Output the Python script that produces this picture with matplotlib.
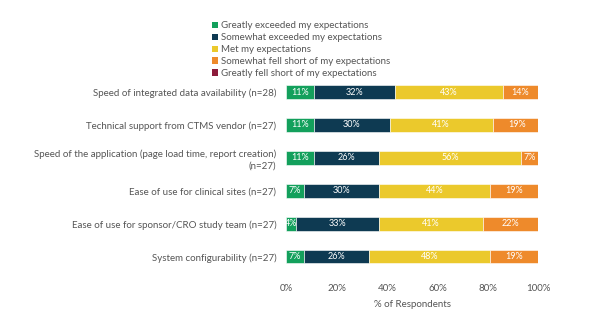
import matplotlib.pyplot as plt
import numpy as np
from matplotlib.patches import Patch

plt.rcParams["font.family"] = ["Lato", "DejaVu Sans"]

categories = [
    "Speed of integrated data availability (n=28)",
    "Technical support from CTMS vendor (n=27)",
    "Speed of the application (page load time, report creation)\n(n=27)",
    "Ease of use for clinical sites (n=27)",
    "Ease of use for sponsor/CRO study team (n=27)",
    "System configurability (n=27)",
]
series_names = [
    "Greatly exceeded my expectations",
    "Somewhat exceeded my expectations",
    "Met my expectations",
    "Somewhat fell short of my expectations",
    "Greatly fell short of my expectations",
]
greatly_exceeded = [11, 11, 11, 7, 4, 7]
somewhat_exceeded = [32, 30, 26, 30, 33, 26]
met = [43, 41, 56, 44, 41, 48]
somewhat_short = [14, 19, 7, 19, 22, 19]
greatly_short = [0, 0, 0, 0, 0, 0]
colors = ["#13a05c", "#0e3a52", "#ebc92c", "#ee8a2b", "#8c1b3b"]

series = [greatly_exceeded, somewhat_exceeded, met, somewhat_short, greatly_short]

fig = plt.figure(figsize=(6, 3.27), dpi=100)
ax = fig.add_axes([0.477, 0.164, 0.42, 0.605])

y = np.arange(len(categories))
left = np.zeros(len(categories))
for vals, color in zip(series, colors):
    vals = np.array(vals, dtype=float)
    ax.barh(y, vals, left=left, height=0.4, color=color, edgecolor="white", linewidth=0.4)
    for yi, (l, v) in enumerate(zip(left, vals)):
        if v > 0:
            ax.text(l + v / 2, yi, f"{int(v)}%", ha="center", va="center",
                    color="white", fontsize=6.5)
    left += vals

ax.set_xlim(0, 100)
ax.set_ylim(len(categories) - 0.5, -0.5)
ax.set_yticks(y)
ax.set_yticklabels(categories, fontsize=7, color="#555555", linespacing=1.3)
ax.set_xticks(np.arange(0, 101, 20))
ax.set_xticklabels([f"{t}%" for t in range(0, 101, 20)], fontsize=7, color="#555555")
ax.tick_params(axis="both", length=0)
ax.tick_params(axis="y", pad=7)
ax.tick_params(axis="x", pad=8)
ax.set_xlabel("% of Respondents", fontsize=7, color="#555555", labelpad=5)
for s in ax.spines.values():
    s.set_visible(False)

handles = [Patch(facecolor=c, edgecolor="none") for c in colors]
fig.legend(handles, series_names, loc="upper left", bbox_to_anchor=(0.345, 0.95),
           frameon=False, fontsize=7, handlelength=0.6, handleheight=0.6,
           handletextpad=0.3, labelspacing=0.3, borderpad=0, labelcolor="#555555")

fig.savefig("out.png", dpi=100)
